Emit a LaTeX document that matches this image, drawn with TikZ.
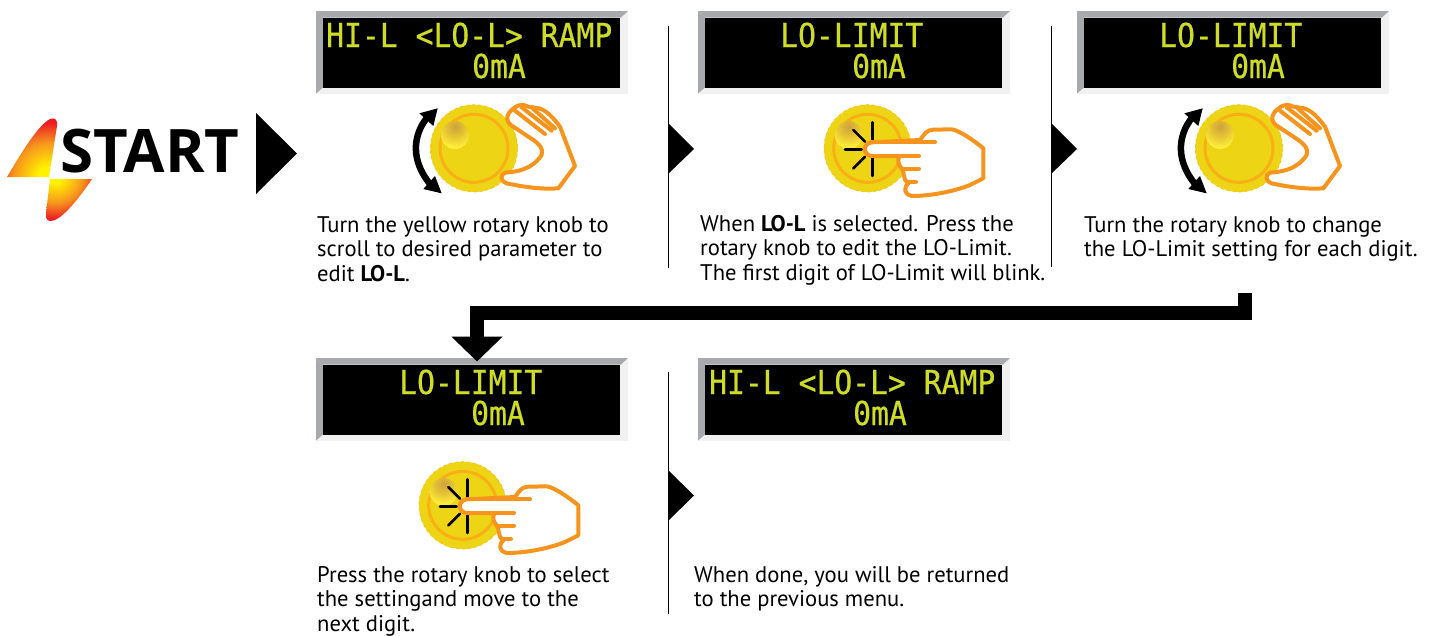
\documentclass[tikz,border=0pt]{standalone}
\usepackage{fontspec}
\setmainfont{PT Sans}
\newfontfamily\lcdfont[FakeStretch=0.9,FakeBold=0.6]{DejaVu Sans Mono}
\newfontfamily\startfont{Open Sans}
\usetikzlibrary{arrows.meta}
\definecolor{lcdtext}{HTML}{CFDC26}
\definecolor{bevdark}{HTML}{A7A9AC}
\definecolor{bevlight}{HTML}{F1F1F2}
\definecolor{knobbody}{HTML}{EDD414}
\definecolor{knobedge}{HTML}{F9C21F}
\definecolor{handline}{HTML}{F7941D}
\definecolor{boltY}{HTML}{FFF200}
\definecolor{boltO}{HTML}{F7941D}
\definecolor{boltR}{HTML}{ED1C24}
\definecolor{glowA}{HTML}{CDA23E}
\definecolor{glowB}{HTML}{E4C232}
\definecolor{glowC}{HTML}{FFEE3A}
\pgfdeclareradialshading{boltshade}{\pgfpoint{0bp}{0bp}}{color(0bp)=(boltY);color(4bp)=(boltY);color(14bp)=(boltO);color(22bp)=(boltR);color(25bp)=(boltR);color(50bp)=(boltR)}
\pgfdeclareradialshading{glowshade}{\pgfpoint{0bp}{0bp}}{color(0bp)=(glowA);color(10bp)=(glowB);color(22bp)=(glowC);color(25bp)=(glowC);color(50bp)=(glowC)}
\newcommand{\knobbase}[2]{%
  \begin{scope}[shift={(#1,#2)}]
    \fill[knobbody] (0,0) circle (131);
    \draw[knobedge,line width=0.7pt,dash pattern=on 3pt off 3pt] (0,0) circle (131);
    \draw[handline!75!yellow,line width=3pt] (0,0) circle (102);
    \begin{scope}
      \clip (-57,-40) circle (42);
      \shade[shading=glowshade] (-57,-65) circle (70);
    \end{scope}
  \end{scope}}
\tikzset{
  x=1pt,y=-1pt,
  lcdscreen/.style={fill=black,inner sep=0pt,minimum width=297.5pt,minimum height=70pt,anchor=north west},
  lcdline/.style={text=lcdtext,inner sep=0pt,anchor=base west,font=\lcdfont\fontsize{33}{33}\selectfont},
  steptext/.style={inner sep=0pt,anchor=north west,align=left,font=\fontsize{22.6}{24.6}\selectfont,execute at begin node={\rule{0pt}{17pt}}},
  divider/.style={draw=black,line width=1pt},
  pointer/.style={fill=black},
  handstroke/.style={draw=handline,line width=4pt,line join=round,line cap=round},
  burst/.style={draw=black,line width=2.6pt,line cap=round},
  turnhand/.pic={
    \knobbase{222}{175}
    \filldraw[handstroke,fill=white] (345,52) .. controls (355,44) and (370,42) .. (385,50)
      -- (405,53) .. controls (430,55) and (450,70) .. (480,110) -- (525,228) -- (475,295)
      .. controls (430,298) and (380,293) .. (320,280) .. controls (300,272) and (300,255) .. (315,248)
      .. controls (350,245) and (395,240) .. (425,195) .. controls (430,175) and (420,165) .. (400,150)
      -- (340,110) .. controls (320,100) and (310,75) .. (345,52) -- cycle;
    \draw[handstroke] (345,62) -- (435,132);
    \draw[handstroke] (365,52) -- (455,122);
    \draw[handstroke] (398,55) -- (465,115);
    \draw[line width=6.5pt] (82,82) .. controls (35,140) and (35,215) .. (90,282);
    \fill[pointer] (113,55) -- (58,70) -- (100,108) -- cycle;
    \fill[pointer] (125,310) -- (70,297) -- (105,258) -- cycle;
  },
  presshand/.pic={
    \knobbase{173}{175}
    \draw[burst] (187,97) -- (187,150);
    \draw[burst] (130,120) -- (165,155);
    \draw[burst] (105,178) -- (155,178);
    \draw[burst] (130,235) -- (165,200);
    \draw[burst] (187,205) -- (187,258);
    \filldraw[handstroke,fill=white] (330,150) .. controls (345,130) and (350,120) .. (370,119) -- (425,118)
      .. controls (445,120) and (490,150) .. (520,175) -- (520,265) -- (480,285)
      .. controls (430,305) and (360,318) .. (305,318) .. controls (285,315) and (278,295) .. (295,280)
      .. controls (275,265) and (285,245) .. (275,235) .. controls (265,225) and (262,210) .. (268,198)
      -- (185,198) .. controls (158,196) and (158,160) .. (185,157) -- cycle;
    \draw[handstroke] (185,157) -- (375,157);
    \draw[handstroke] (185,198) -- (327,198);
    \draw[handstroke] (275,236) -- (327,236);
    \draw[handstroke] (292,275) -- (318,275);
  },
}
\newcommand{\lcdframe}[3]{%
  \fill[bevlight] (#2,#3) rectangle ++(312,82.5);
  \fill[bevdark] (#2,#3) -- ++(312,0) -- ++(-7,6.5) -- ++(-298,0) -- cycle;
  \fill[bevdark] (#2,#3) -- ++(7,6.5) -- ++(0,70) -- ++(-7,6) -- cycle;
  \node[lcdscreen] (#1) at ([shift={(6.7,6.5)}]#2,#3) {};
}
\begin{document}
\begin{tikzpicture}
\useasboundingbox (0,0) rectangle (1435,635);
% start logo
\begin{scope}
  \clip (50,179) -- (92,179) .. controls (78,200) and (60,222) .. (50,221)
    .. controls (46,221) and (46,216) .. (46,213) -- cycle;
  \shade[shading=boltshade] (55,175) circle (50);
\end{scope}
\begin{scope}
  \clip (7,177) .. controls (20,155) and (38,125) .. (50,119)
  .. controls (55,117) and (58,120) .. (57,126) -- (49,177) -- cycle;
  \shade[shading=boltshade] (48,177) circle (62);
\end{scope}
\node[inner sep=0pt,anchor=base west,font=\startfont\bfseries\fontsize{60}{60}\selectfont] (starttext) at (60,172) {START};
\fill[pointer] (256,113) -- (297,153.5) -- (256,194) -- cycle;
% panels
\lcdframe{p1}{316}{11}
\lcdframe{p2}{698}{11}
\lcdframe{p3}{1077}{11}
\lcdframe{p4}{316}{358}
\lcdframe{p5}{698}{358}
\node[lcdline] (p1a) at (326,47) {HI-L <LO-L> RAMP};
\node[lcdline] (p1b) at (472,78) {0mA};
\node[lcdline] (p2a) at (780,47) {LO-LIMIT};
\node[lcdline] (p2b) at (852,78) {0mA};
\node[lcdline] (p3a) at (1159,47) {LO-LIMIT};
\node[lcdline] (p3b) at (1231,78) {0mA};
\node[lcdline] (p4a) at (399,394) {LO-LIMIT};
\node[lcdline] (p4b) at (471,425) {0mA};
\node[lcdline] (p5a) at (709,394) {HI-L <LO-L> RAMP};
\node[lcdline] (p5b) at (853,425) {0mA};
% hands
\path pic[scale=1/3] at (400,90) {turnhand};
\path pic[scale=1/3] at (810,90) {presshand};
\path pic[scale=1/3] at (1165,90) {turnhand};
\path pic[scale=1/3] at (405,447) {presshand};
% dividers
\coordinate (d1a) at (668,26); \coordinate (d1b) at (668,268);
\coordinate (d2a) at (1051,26); \coordinate (d2b) at (1051,267);
\coordinate (d3a) at (668,372); \coordinate (d3b) at (668,614);
\draw[divider] (d1a) -- (d1b);
\draw[divider] (d2a) -- (d2b);
\draw[divider] (d3a) -- (d3b);
\fill[pointer] (668,123) -- (694,149) -- (668,174) -- cycle;
\fill[pointer] (1051,123) -- (1077,149) -- (1051,174) -- cycle;
\fill[pointer] (668,470) -- (694,495.5) -- (668,521) -- cycle;
% texts
\node[steptext] (t1) at (317,216) {Turn the yellow rotary knob to\\scroll to desired parameter to\\edit {\bfseries LO-L}.};
\node[steptext] (t2) at (700,215) {When {\bfseries LO-L} is selected. Press the\\rotary knob to edit the LO-Limit.\\The first digit of LO-Limit will blink.};
\node[steptext] (t3) at (1084,216) {Turn the rotary knob to change\\the LO-Limit setting for each digit.};
\node[steptext] (t4) at (317,566) {Press the rotary knob to select\\the settingand move to the\\next digit.};
\node[steptext] (t5) at (694,566) {When done, you will be returned\\to the previous menu.};
% elbow connector
\coordinate (elbowstart) at (1245,293);
\coordinate (elbowbend) at (1245,313);
\coordinate (elbowturn) at (477,313);
\draw[line width=14pt,-{Triangle[width=50pt,length=25pt]},shorten >=3pt] (elbowstart) -- (elbowbend) -- (elbowturn) -- (p4.north -| elbowturn);
\end{tikzpicture}
\end{document}
